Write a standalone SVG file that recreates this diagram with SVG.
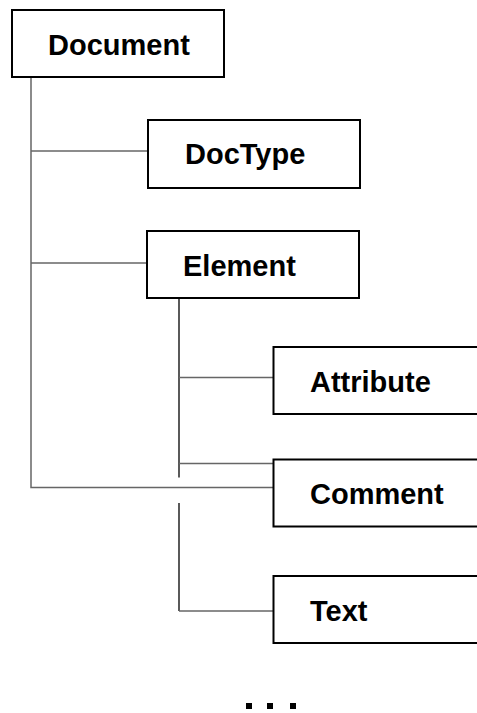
<svg xmlns="http://www.w3.org/2000/svg" width="477" height="713" viewBox="0 0 477 713">
<style>
.box{fill:#fff;stroke:#000;stroke-width:2}
.lbl{font-family:"Liberation Sans",Arial,sans-serif;font-weight:bold;font-size:29px;fill:#000}
.g{stroke:#666;stroke-width:1.5;fill:none}
.k{stroke:#000;stroke-width:1.3;fill:none}
</style>
<g id="connectors">
<path class="g" d="M31 77V487.5H273"/>
<path class="g" d="M31 151H148"/>
<path class="g" d="M31 263H147"/>
<path class="k" d="M179 298V477.5"/>
<path class="k" d="M179 503V611"/>
<path class="g" d="M179 611H273"/>
<path class="g" d="M179 377.5H273"/>
<path class="g" d="M179 463.5H273"/>
</g>
<g id="document"><rect class="box" x="12" y="10" width="212" height="67"/><text class="lbl" x="48" y="55">Document</text></g>
<g id="doctype"><rect class="box" x="148" y="120" width="212" height="68"/><text class="lbl" x="185" y="164">DocType</text></g>
<g id="element"><rect class="box" x="147" y="231" width="212" height="67"/><text class="lbl" x="183" y="276">Element</text></g>
<g id="attribute"><rect class="box" x="273.5" y="347" width="220" height="67"/><text class="lbl" x="310" y="392">Attribute</text></g>
<g id="comment"><rect class="box" x="273.5" y="459.5" width="220" height="67"/><text class="lbl" x="310" y="504">Comment</text></g>
<g id="text"><rect class="box" x="273.5" y="576" width="220" height="67"/><text class="lbl" x="310" y="621">Text</text></g>
<g id="ellipsis" fill="#000"><rect x="246" y="703" width="6" height="6"/><rect x="267" y="703" width="6" height="6"/><rect x="290" y="703" width="6" height="6"/></g>
</svg>
